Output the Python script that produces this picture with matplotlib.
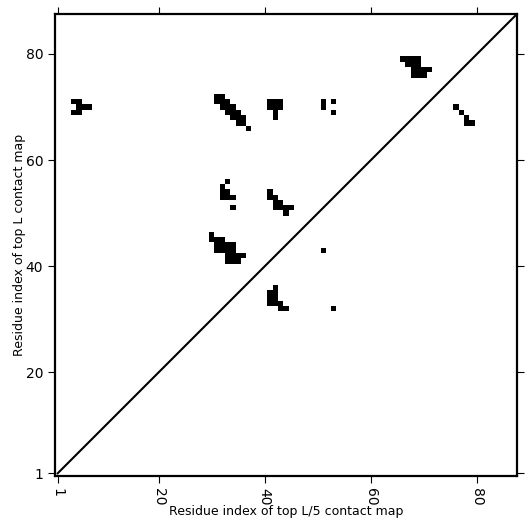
import numpy as np
import matplotlib
matplotlib.use("Agg")
from matplotlib import pyplot as plt

L = 87

# contacts as (x residue, y residue), 1-based
contact_x = [4, 5, 5, 6, 7, 4, 5,
             31, 32, 31, 32, 33, 32, 33, 34, 33, 34, 35, 34, 35, 36, 35, 36, 37,
             41, 42, 43, 41, 42, 43, 42, 42,
             51, 51, 53, 53,
             66, 67, 68, 69, 67, 68, 69, 68, 69, 70, 71, 68, 69, 70,
             76, 77, 78, 78, 79,
             33, 32, 32, 33, 32, 33, 34, 34,
             41, 41, 42, 42, 43, 42, 43, 44, 45, 44,
             30, 30, 31, 32, 31, 32, 33, 34, 31, 32, 33, 34, 33, 34, 35, 36, 33, 34, 35,
             51,
             42, 41, 42, 41, 42, 41, 42, 43, 43, 44,
             53]
contact_y = [71, 71, 70, 70, 70, 69, 69,
             72, 72, 71, 71, 71, 70, 70, 70, 69, 69, 69, 68, 68, 68, 67, 67, 66,
             71, 71, 71, 70, 70, 70, 69, 68,
             71, 70, 71, 69,
             79, 79, 79, 79, 78, 78, 78, 77, 77, 77, 77, 76, 76, 76,
             70, 69, 68, 67, 67,
             56, 55, 54, 54, 53, 53, 53, 51,
             54, 53, 53, 52, 52, 51, 51, 51, 51, 50,
             46, 45, 45, 45, 44, 44, 44, 44, 43, 43, 43, 43, 42, 42, 42, 42, 41, 41, 41,
             43,
             36, 35, 35, 34, 34, 33, 33, 33, 32, 32,
             32]

tick_pos = [1, 20, 40, 60, 80]
tick_labels = ["1", "20", "40", "60", "80"]

cmap = np.zeros((L, L))
for x, y in zip(contact_x, contact_y):
    cmap[y - 1, x - 1] = 1

fig = plt.figure(figsize=(5.31, 5.31), dpi=100)
ax = fig.add_axes([55 / 531, 55 / 531, 462 / 531, 462 / 531])
ax.imshow(cmap, cmap="Greys", origin="lower", interpolation="nearest",
          extent=(0.5, L + 0.5, 0.5, L + 0.5), vmin=0, vmax=1)
ax.plot([1, L + 0.5], [1, L + 0.5], color="black", linewidth=1.5)
ax.set_xlim(0.5, L + 0.5)
ax.set_ylim(0.5, L + 0.5)

ax.set_xticks(tick_pos)
ax.set_xticklabels(tick_labels, rotation=270)
ax.set_yticks(tick_pos)
ax.set_yticklabels(tick_labels)
ax.tick_params(top=True, right=True, direction="out", length=5, labelsize=10)
for s in ax.spines.values():
    s.set_linewidth(1.6)

ax.set_xlabel("Residue index of top L/5 contact map", fontsize=9, labelpad=0)
ax.set_ylabel("Residue index of top L contact map", fontsize=9, labelpad=0)

fig.savefig("out.png", dpi=100)
